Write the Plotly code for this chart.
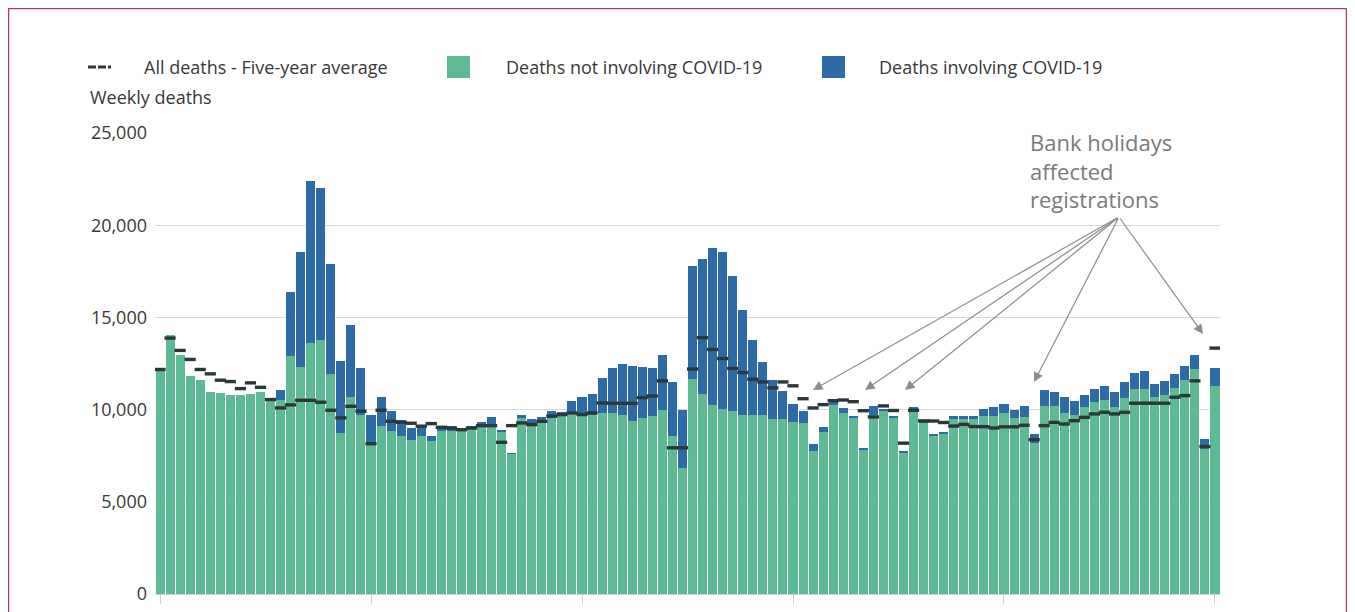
import pandas as pd
import plotly.graph_objects as go

# ---------------- data ----------------
weeks = [d.strftime("%d %b %Y") for d in pd.date_range("2020-01-03", periods=106, freq="7D")]

all_deaths = [
    12230, 14040, 12950, 11810, 11580, 10940, 10890, 10780, 10780, 10850,
    10960, 10620, 11090, 16400, 18550, 22410, 22010, 17920, 12630, 14570,
    12230, 9730, 10690, 9910, 9440, 9000, 9185, 8590, 9000, 9130,
    9000, 9130, 9310, 9580, 8910, 7645, 9730, 9490, 9600, 9910,
    9855, 10450, 10690, 10850, 11740, 12230, 12480, 12390, 12300, 12240,
    12960, 11500, 9970, 17780, 18150, 18790, 18535, 17250, 15400, 13770,
    12590, 11600, 11000, 10330, 9950, 8120, 9030, 10590, 10070, 9665,
    7870, 10170, 10050, 9650, 7735, 10120, 9390, 8670, 8780, 9650,
    9655, 9655, 10050, 10145, 10290, 9980, 10200, 8695, 11070, 10980,
    10670, 10490, 10800, 11120, 11270, 10940, 11520, 11995, 12100, 11395,
    11575, 11920, 12390, 12970, 8390, 12250,
]

not_covid = [
    12230, 14040, 12950, 11810, 11580, 10940, 10890, 10780, 10780, 10850,
    10960, 10520, 10545, 12900, 12320, 13625, 13750, 11905, 8735, 10670,
    9730, 8100, 9095, 8820, 8550, 8350, 8550, 8280, 8820, 8860,
    8880, 8950, 9095, 9240, 8770, 7610, 9550, 9240, 9365, 9550,
    9640, 9820, 9820, 9730, 9820, 9820, 9730, 9370, 9550, 9640,
    10000, 8550, 6850, 11660, 10870, 10270, 10020, 9910, 9690, 9690,
    9690, 9510, 9510, 9330, 9300, 7760, 8760, 10250, 9790, 9580,
    7830, 9700, 9900, 9560, 7700, 9850, 9300, 8600, 8680, 9500,
    9500, 9500, 9675, 9660, 9790, 9520, 9610, 8180, 10200, 10217,
    9820, 9710, 10130, 10435, 10545, 10130, 10615, 11120, 11120, 10670,
    10800, 11160, 11630, 12210, 7850, 11300,
]

covid = [t - n for t, n in zip(all_deaths, not_covid)]

five_year_avg = [
    12175, 13880, 13210, 12720, 12175, 11940, 11595, 11520, 11140, 11450,
    11210, 10545, 10090, 10255, 10505, 10505, 10400, 9965, 9550, 10180,
    9910, 8150, 9965, 9365, 9310, 9260, 9100, 9240, 9040, 9000,
    8910, 9000, 9130, 9130, 8225, 9130, 9275, 9185, 9365, 9640,
    9730, 9820, 9730, 9820, 10360, 10340, 10340, 10340, 10650, 10740,
    11560, 7930, 7930, 12200, 13900, 13260, 12770, 12230, 12010, 11650,
    11500, 11180, 11500, 11290, 10590, 10090, 10270, 10480, 10520, 10430,
    9940, 9600, 10200, 9950, 8180, 9960, 9390, 9380, 9300, 9110,
    9200, 9080, 9075, 9005, 9065, 9065, 9150, 8370, 9130, 9310,
    9220, 9400, 9580, 9765, 9855, 9765, 9855, 10345, 10345, 10345,
    10345, 10670, 10760, 11560, 8000, 13335,
]

tick_weeks = [weeks[i] for i in (0, 21, 42, 63, 84, 105)]
y_ticks = [0, 5000, 10000, 15000, 20000, 25000]

GREEN = "#5dba95"
BLUE = "#2c6ba6"
DASH = "#2b3838"
TEXT = "#383838"
GREY = "#8d8d8d"
FONT = "Open Sans"

# ---------------- geometry (page pixels; the page body adds an 8px margin) ----------------
OFF = 8
W, H = 1355 - OFF, 612 - OFF
L, R, T, B = 147, 135, 125, 18
PW, PH = W - L - R, H - T - B


def px(x):
    return (x - OFF - L) / PW


def py(y):
    return (H - B - (y - OFF)) / PH


fig = go.Figure()
fig.add_trace(go.Bar(x=weeks, y=not_covid, name="Deaths not involving COVID-19",
                     marker=dict(color=GREEN, line=dict(width=0)), showlegend=False))
fig.add_trace(go.Bar(x=weeks, y=covid, name="Deaths involving COVID-19",
                     marker=dict(color=BLUE, line=dict(width=0)), showlegend=False))
fig.add_trace(go.Scatter(x=weeks, y=five_year_avg, mode="markers",
                         name="All deaths - Five-year average",
                         marker=dict(symbol="line-ew", size=8,
                                     line=dict(color=DASH, width=3.4)),
                         showlegend=False))

shapes = [
    # outer frame
    dict(type="rect", xref="paper", yref="paper", x0=px(8.5), x1=px(1346.5),
         y0=py(650), y1=py(8.5), line=dict(color="#b3385c", width=1.5)),
    # legend symbols
    dict(type="line", xref="paper", yref="paper", x0=px(88), x1=px(111), y0=py(67), y1=py(67),
         line=dict(color=DASH, width=3, dash="8px,2px")),
    dict(type="rect", xref="paper", yref="paper", x0=px(447), x1=px(470), y0=py(78), y1=py(56),
         fillcolor=GREEN, line=dict(width=0)),
    dict(type="rect", xref="paper", yref="paper", x0=px(822), x1=px(845), y0=py(78), y1=py(56),
         fillcolor=BLUE, line=dict(width=0)),
]

annotations = [
    dict(text="All deaths - Five-year average", x=px(266), y=py(67)),
    dict(text="Deaths not involving COVID-19", x=px(634), y=py(67)),
    dict(text="Deaths involving COVID-19", x=px(990), y=py(67)),
    dict(text="Weekly deaths", x=px(88), y=py(97), xanchor="left"),
]
annotations = [dict(a, xref="paper", yref="paper", showarrow=False,
                    xanchor=a.get("xanchor", "center"), yanchor="middle",
                    font=dict(family=FONT, size=18, color=TEXT)) for a in annotations]

annotations.append(dict(text="Bank holidays<br>affected<br>registrations",
                        xref="paper", yref="paper", x=px(1028), y=py(170),
                        xanchor="left", yanchor="middle", align="left", showarrow=False,
                        font=dict(family=FONT, size=22, color="#7a7a7a")))

tail = (1119, 217)
tips = [(813, 390), (865, 390), (905, 390), (1034, 382), (1203, 334)]
for (tx, ty) in tips:
    annotations.append(dict(text="", xref="paper", yref="paper", x=px(tx), y=py(ty),
                            ax=tail[0] - tx, ay=tail[1] - ty, axref="pixel", ayref="pixel",
                            showarrow=True, arrowhead=2, arrowsize=1.6, arrowwidth=1.2,
                            arrowcolor=GREY, standoff=0))

fig.update_layout(
    width=W, height=H,
    margin=dict(l=L, r=R, t=T, b=B, autoexpand=False),
    barmode="stack", bargap=0.1,
    paper_bgcolor="white", plot_bgcolor="white",
    font=dict(family=FONT, color=TEXT),
    shapes=shapes, annotations=annotations,
    showlegend=False,
)
fig.update_xaxes(type="category", range=[-0.5, 105.5], tickvals=tick_weeks,
                 showticklabels=False, ticks="outside", ticklen=9, tickcolor="#d3d3d3",
                 showline=True, linecolor="#d3d3d3", linewidth=1, showgrid=False)
fig.update_yaxes(range=[0, 25000], tickvals=y_ticks, tickformat=",", showgrid=True,
                 gridcolor="#d9d9d9", gridwidth=1, zeroline=False, showline=False,
                 ticks="", ticklabelstandoff=7,
                 tickfont=dict(family=FONT, size=18, color=TEXT))

fig.write_html("out.html")
